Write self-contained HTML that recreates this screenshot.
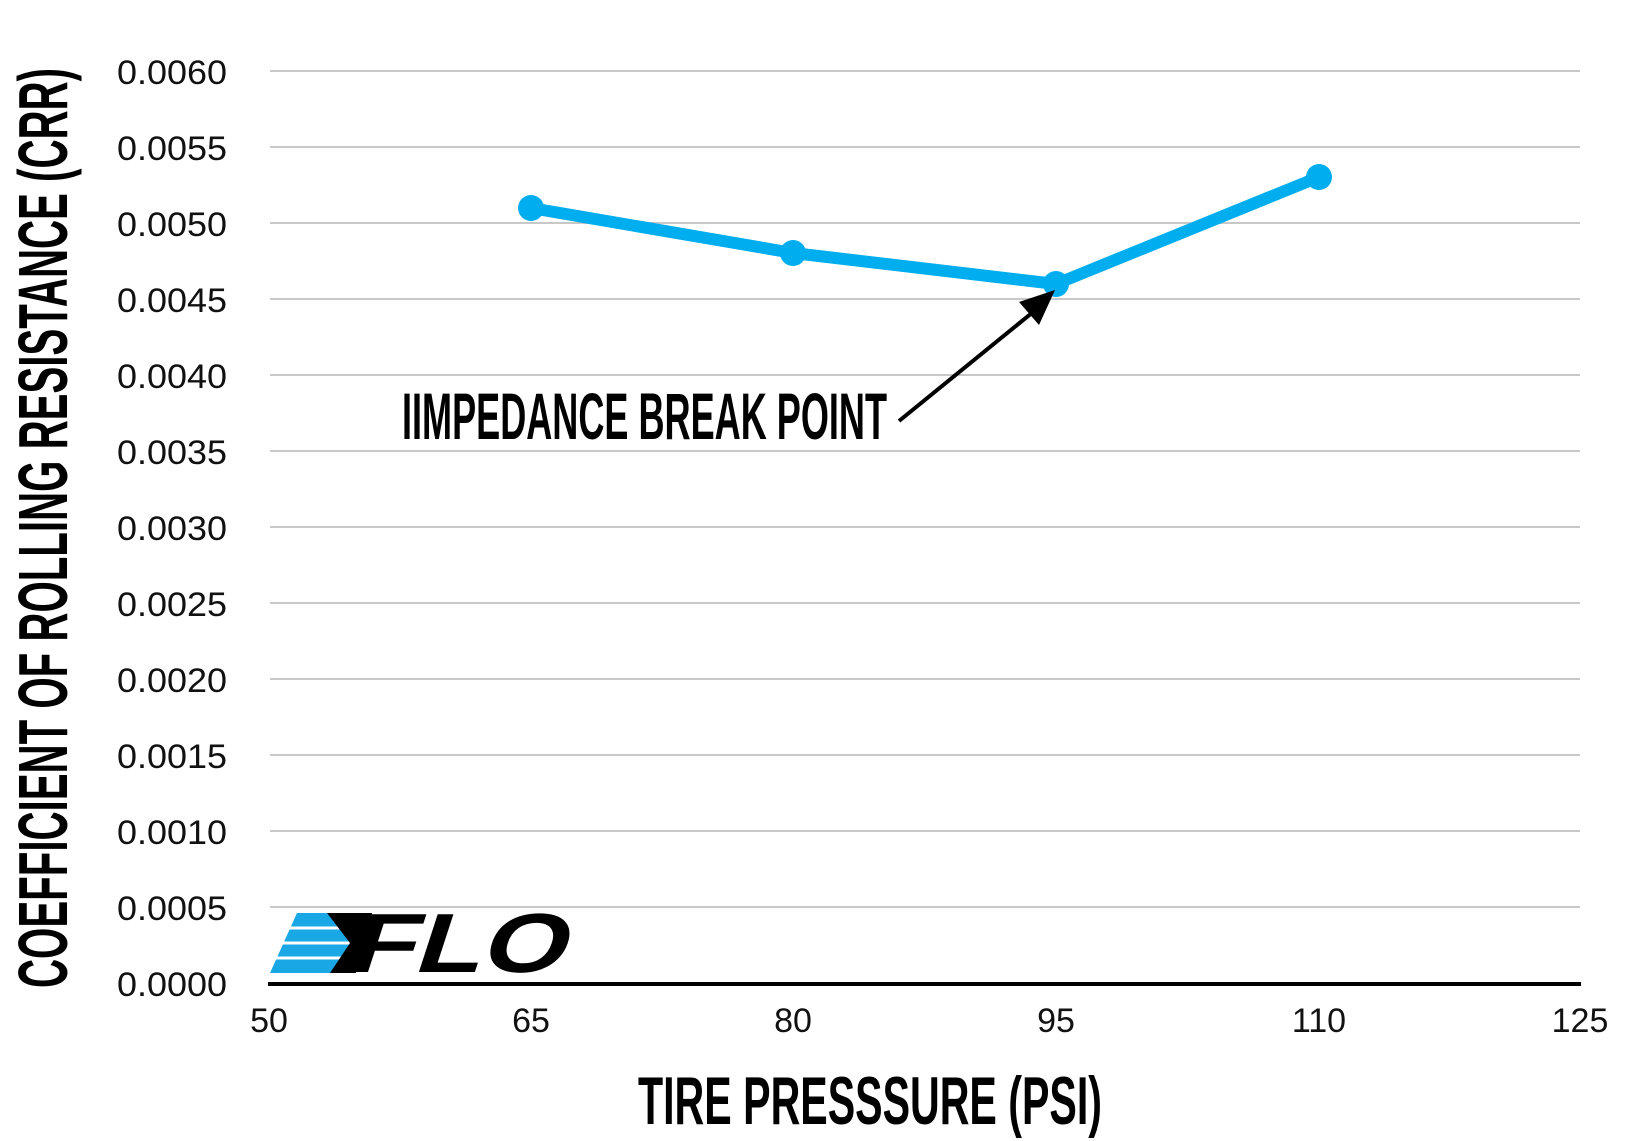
<!DOCTYPE html>
<html><head><meta charset="utf-8"><style>
html,body{margin:0;padding:0;background:#fff;}
svg{display:block;}
</style></head><body>
<svg width="1640" height="1141" viewBox="0 0 1640 1141" xmlns="http://www.w3.org/2000/svg">
<g stroke="#c8c8c8" stroke-width="2">
<line x1="270" y1="71" x2="1580" y2="71"/>
<line x1="270" y1="147" x2="1580" y2="147"/>
<line x1="270" y1="223" x2="1580" y2="223"/>
<line x1="270" y1="299" x2="1580" y2="299"/>
<line x1="270" y1="375" x2="1580" y2="375"/>
<line x1="270" y1="451" x2="1580" y2="451"/>
<line x1="270" y1="527" x2="1580" y2="527"/>
<line x1="270" y1="603" x2="1580" y2="603"/>
<line x1="270" y1="679" x2="1580" y2="679"/>
<line x1="270" y1="755" x2="1580" y2="755"/>
<line x1="270" y1="831" x2="1580" y2="831"/>
<line x1="270" y1="907" x2="1580" y2="907"/>
</g>
<line x1="268" y1="984" x2="1581" y2="984" stroke="#000" stroke-width="4"/>
<g font-family="Liberation Sans, Arial, sans-serif" font-size="34" fill="#111" text-anchor="end">
<text x="227" y="84" textLength="110" lengthAdjust="spacingAndGlyphs">0.0060</text>
<text x="227" y="160" textLength="110" lengthAdjust="spacingAndGlyphs">0.0055</text>
<text x="227" y="236" textLength="110" lengthAdjust="spacingAndGlyphs">0.0050</text>
<text x="227" y="312" textLength="110" lengthAdjust="spacingAndGlyphs">0.0045</text>
<text x="227" y="388" textLength="110" lengthAdjust="spacingAndGlyphs">0.0040</text>
<text x="227" y="464" textLength="110" lengthAdjust="spacingAndGlyphs">0.0035</text>
<text x="227" y="540" textLength="110" lengthAdjust="spacingAndGlyphs">0.0030</text>
<text x="227" y="616" textLength="110" lengthAdjust="spacingAndGlyphs">0.0025</text>
<text x="227" y="692" textLength="110" lengthAdjust="spacingAndGlyphs">0.0020</text>
<text x="227" y="768" textLength="110" lengthAdjust="spacingAndGlyphs">0.0015</text>
<text x="227" y="844" textLength="110" lengthAdjust="spacingAndGlyphs">0.0010</text>
<text x="227" y="920" textLength="110" lengthAdjust="spacingAndGlyphs">0.0005</text>
<text x="227" y="996" textLength="110" lengthAdjust="spacingAndGlyphs">0.0000</text>
</g>
<g font-family="Liberation Sans, Arial, sans-serif" font-size="34" fill="#111" text-anchor="middle">
<text x="269" y="1032">50</text>
<text x="531" y="1032">65</text>
<text x="793" y="1032">80</text>
<text x="1056" y="1032">95</text>
<text x="1319" y="1032">110</text>
<text x="1580" y="1032">125</text>
</g>
<polyline points="531,208 793,253 1056,284 1319,177" fill="none" stroke="#00aeef" stroke-width="12" stroke-linejoin="round"/>
<g fill="#00aeef">
<circle cx="531" cy="208" r="13"/>
<circle cx="793" cy="253" r="13"/>
<circle cx="1056" cy="284" r="13"/>
<circle cx="1319" cy="177" r="13"/>
</g>
<line x1="899" y1="421" x2="1038" y2="308" stroke="#000" stroke-width="4"/>
<polygon points="1055,290 1039,325 1019,302" fill="#000"/>
<text x="402" y="439" font-family="Liberation Sans Narrow, Liberation Sans, sans-serif" font-weight="bold" font-size="66" textLength="485" lengthAdjust="spacingAndGlyphs" fill="#000">IIMPEDANCE BREAK POINT</text>
<text x="638" y="1124" font-family="Liberation Sans Narrow, Liberation Sans, sans-serif" font-weight="bold" font-size="68" textLength="464" lengthAdjust="spacingAndGlyphs" fill="#000">TIRE PRESSSURE (PSI)</text>
<text transform="translate(67,988) rotate(-90)" x="0" y="0" font-family="Liberation Sans Narrow, Liberation Sans, sans-serif" font-weight="bold" font-size="70" textLength="920" lengthAdjust="spacingAndGlyphs" fill="#000">COEFFICIENT OF ROLLING RESISTANCE (CRR)</text>
<!-- FLO logo -->
<polygon points="297,913 330,913 350,943 333,973 270,973" fill="#1aa7e6"/>
<g stroke="#fff" stroke-width="3">
<line x1="270" y1="928" x2="352" y2="928"/>
<line x1="270" y1="943" x2="352" y2="943"/>
<line x1="270" y1="958" x2="352" y2="958"/>
</g>
<polygon points="327,913 372,913 356,973 330,973 350,943" fill="#000"/>
<text x="0" y="0" transform="translate(345,972) skewX(-18)" font-family="Liberation Sans, Arial, sans-serif" font-weight="bold" font-size="84" textLength="218" lengthAdjust="spacingAndGlyphs" fill="#000">FLO</text>
</svg>
</body></html>
